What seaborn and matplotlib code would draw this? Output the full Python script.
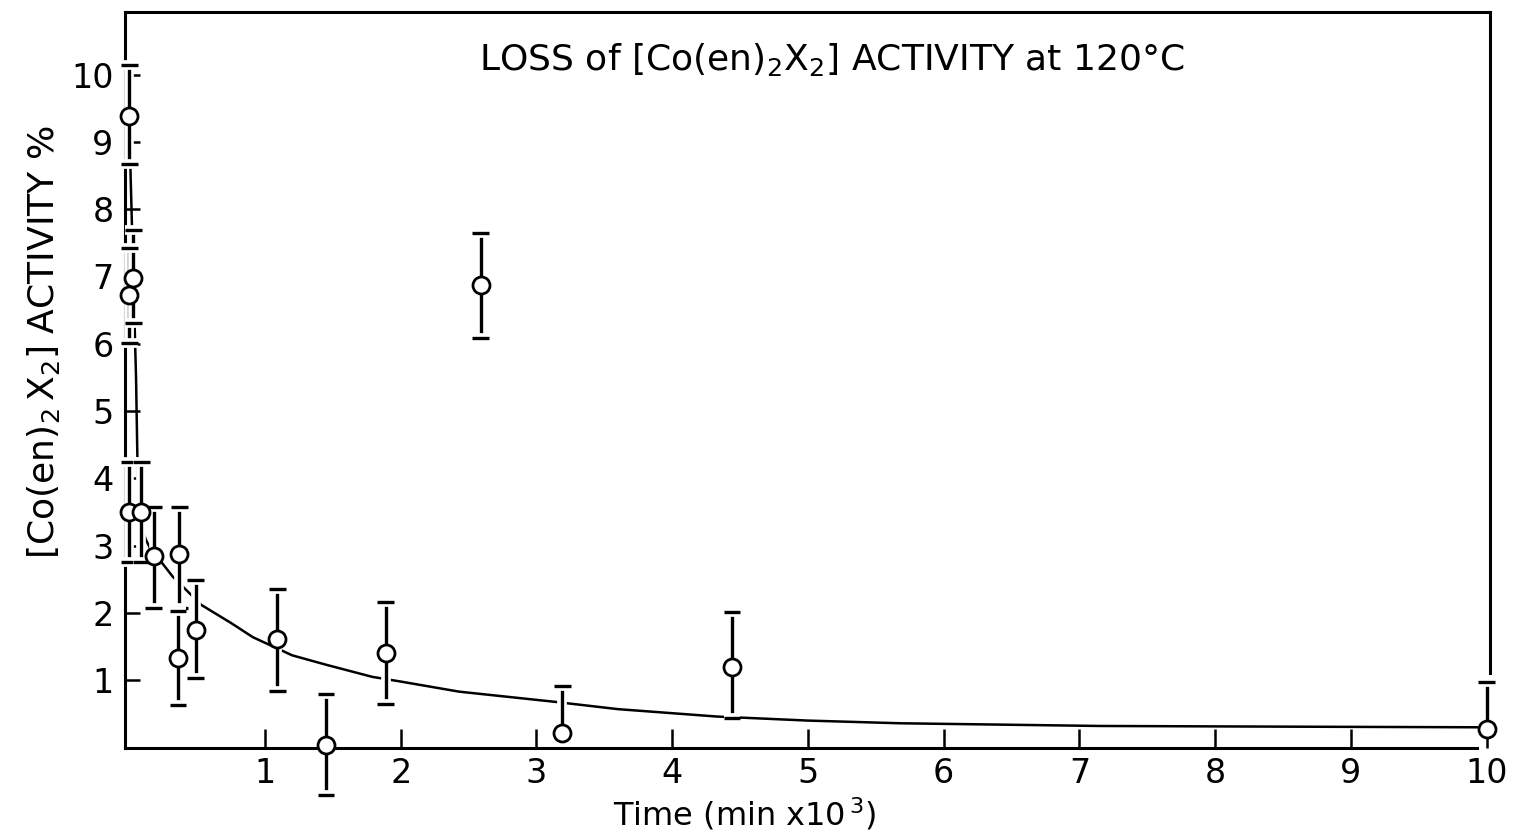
import matplotlib
matplotlib.use("Agg")
import matplotlib.pyplot as plt
import matplotlib.patheffects as pe
import numpy as np
import pandas as pd
import seaborn as sns

# Measured activity (%) with error limits, time in thousands of minutes
time_k = [0.00, 0.00, 0.03, 0.00, 0.09, 0.18, 0.37, 0.36, 0.49, 1.09, 1.45, 1.89, 2.59, 3.19, 4.44, 10.00]
activity = [9.38, 6.72, 6.97, 3.50, 3.50, 2.85, 2.87, 1.33, 1.75, 1.61, 0.04, 1.41, 6.88, 0.21, 1.19, 0.28]
err_up = [0.76, 0.71, 0.72, 0.75, 0.75, 0.72, 0.70, 0.70, 0.74, 0.74, 0.75, 0.75, 0.76, 0.70, 0.82, 0.70]
err_down = [0.71, 0.71, 0.66, 0.75, 0.75, 0.78, 0.79, 0.70, 0.72, 0.77, 0.74, 0.76, 0.79, 0.00, 0.75, 0.00]

# Fitted decay curve
curve_t = [0.00, 0.01, 0.03, 0.05, 0.06, 0.076, 0.12, 0.17, 0.235, 0.32, 0.53, 0.75, 0.91,
           1.20, 1.45, 1.79, 2.00, 2.43, 3.13, 3.60, 4.33, 5.00, 5.68, 7.15, 8.50, 10.00]
curve_a = [9.40, 8.50, 7.00, 5.50, 4.30, 3.38, 3.10, 2.89, 2.76, 2.54, 2.12, 1.85, 1.64,
           1.37, 1.23, 1.05, 0.98, 0.83, 0.68, 0.57, 0.46, 0.40, 0.36, 0.32, 0.31, 0.30]

x_ticks = [1, 2, 3, 4, 5, 6, 7, 8, 9, 10]
y_ticks = [1, 2, 3, 4, 5, 6, 7, 8, 9, 10]

sns.set_theme(style="white")
plt.rcParams["font.family"] = ["DejaVu Sans"]
plt.rcParams["mathtext.fontset"] = "dejavusans"
plt.rcParams["text.color"] = "black"

fig = plt.figure(figsize=(15.16, 8.35), dpi=100)
ax = fig.add_axes([124.5 / 1516, 87.5 / 835, (1490 - 124.5) / 1516, 735.5 / 835])

points = pd.DataFrame({"t": time_k, "a": activity})
fit = pd.DataFrame({"t": curve_t, "a": curve_a})

sns.lineplot(data=fit, x="t", y="a", sort=False, estimator=None, color="black",
             linewidth=1.8, ax=ax, zorder=2)

stroke = [pe.withStroke(linewidth=7, foreground="white")]
eb = ax.errorbar(time_k, activity, yerr=[err_down, err_up], fmt="none", ecolor="black",
                 elinewidth=2.4, capsize=6, capthick=2.4, zorder=3, clip_on=False)
for cap in eb[1]:
    cap.set_path_effects(stroke)
    cap.set_clip_on(False)
for col in eb[2]:
    col.set_path_effects(stroke)
    col.set_clip_on(False)

sns.scatterplot(data=points, x="t", y="a", marker="o", s=150, facecolor="white",
                edgecolor="black", linewidth=2.0, ax=ax, zorder=4, clip_on=False)

ax.set_xlim(-0.035, 10.025)
ax.set_ylim(0, 10.93)
ax.set_xticks(x_ticks)
ax.set_xticklabels([str(v) for v in x_ticks])
ax.set_yticks(y_ticks)
ax.set_yticklabels([str(v) for v in y_ticks])
ax.tick_params(axis="x", direction="in", length=14, width=1.8, pad=7, labelsize=24,
               colors="black", labelcolor="black", bottom=True)
ax.tick_params(axis="y", direction="in", length=11, width=1.8, pad=8, labelsize=24,
               colors="black", labelcolor="black", left=True)

for side in ["left", "right", "top", "bottom"]:
    ax.spines[side].set_visible(True)
    ax.spines[side].set_color("black")
    ax.spines[side].set_linewidth(2.2)
ax.spines["right"].set_bounds(1.1, 10.93)
ax.spines["bottom"].set_bounds(-0.035, 9.93)

ax.set_xlabel("")
ax.set_ylabel("")
fig.text(44 / 1516, 1 - 342 / 835, r"$\left[\mathrm{Co(en)_2\,X_2}\right]$ ACTIVITY %",
         rotation=90, ha="center", va="center", fontsize=26, color="black")
fig.text(745 / 1516, 3 / 835, r"Time (min x10$^{\,3}$)", ha="center", va="bottom",
         fontsize=23, color="black")
fig.text(832 / 1516, 1 - 60 / 835, r"LOSS of $\left[\mathrm{Co(en)_2X_2}\right]$ ACTIVITY at 120°C",
         ha="center", va="center", fontsize=26, color="black")

fig.savefig("out.png", dpi=100, facecolor="white")
